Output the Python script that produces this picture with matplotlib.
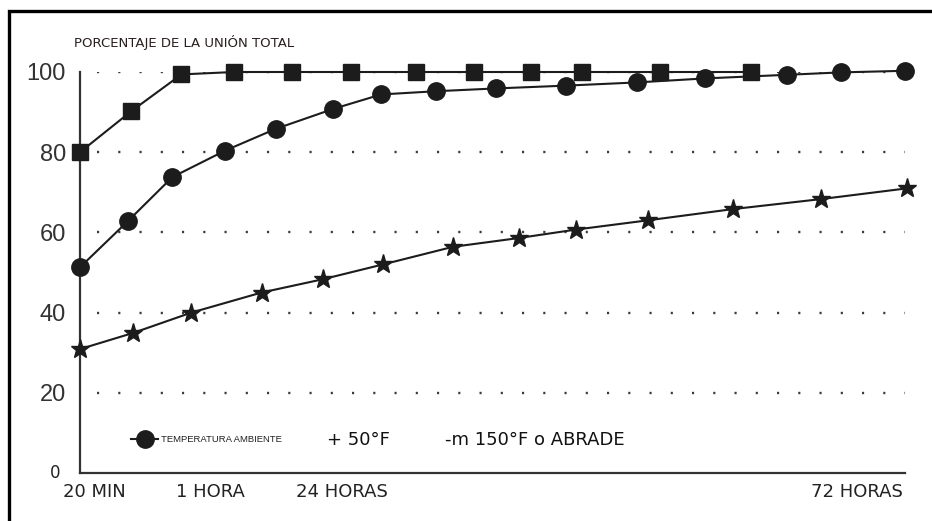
import matplotlib
matplotlib.use("Agg")
import matplotlib.pyplot as plt
from matplotlib.patches import Rectangle

# x positions are on an arbitrary 0-100 time scale (axis is not linear in time)
square_x = [0, 6.2, 12.3, 18.7, 25.7, 32.9, 40.7, 47.7, 54.7, 60.9, 70.3, 81.3]
square_y = [80, 90.2, 99.4, 100, 100, 100, 100, 100, 100, 100, 100, 100]

circle_x = [0, 5.8, 11.2, 17.6, 23.7, 30.7, 36.5, 43.1, 50.4, 58.9, 67.5, 75.8, 85.7, 92.2, 100]
circle_y = [51.3, 62.8, 73.8, 80.4, 85.8, 90.8, 94.4, 95.2, 95.9, 96.6, 97.4, 98.4, 99.3, 99.9, 100.3]

star_x = [0, 6.4, 13.5, 22.0, 29.4, 36.7, 45.2, 53.2, 60.1, 68.8, 79.1, 89.8, 100.3]
star_y = [30.9, 34.9, 40.0, 45.0, 48.3, 52.0, 56.4, 58.6, 60.7, 63.0, 65.8, 68.3, 71.0]

y_ticks = [20, 40, 60, 80, 100]
x_tick_pos = [1.7, 15.8, 31.8, 94.2]
x_tick_labels = ["20 MIN", "1 HORA", "24 HORAS", "72 HORAS"]

ink = "#1c1c1c"

fig = plt.figure(figsize=(9.32, 5.21), dpi=100)
ax = fig.add_axes([80 / 932, 1 - 473 / 521, 825 / 932, 401 / 521])
ax.set_xlim(0, 100)
ax.set_ylim(0, 100)

# dotted reference lines
ax.hlines(y_ticks, 2.1, 100, colors="#3a3a3a", linestyles=(0, (0.9, 8.1)), linewidth=1.7, zorder=1)

ax.plot(square_x, square_y, color=ink, lw=1.5, marker="s", ms=11, clip_on=False, zorder=3)
ax.plot(circle_x, circle_y, color=ink, lw=1.5, marker="o", ms=12.5, clip_on=False, zorder=3,
        label="TEMPERATURA AMBIENTE")
ax.plot(star_x, star_y, color=ink, lw=1.5, marker="*", ms=14, clip_on=False, zorder=3)

for s in ["top", "right"]:
    ax.spines[s].set_visible(False)
for s in ["left", "bottom"]:
    ax.spines[s].set_color("#333333")
    ax.spines[s].set_linewidth(1.6)
ax.spines["left"].set_bounds(0, 100)

ax.set_yticks(y_ticks)
ax.set_yticklabels([str(v) for v in y_ticks], family=["Liberation Sans Narrow", "Liberation Sans"],
                   fontsize=17, color="#333333")
ax.tick_params(axis="y", length=0, pad=10)
ax.set_xticks(x_tick_pos)
ax.set_xticklabels(x_tick_labels, fontsize=13, color="#222222")
ax.tick_params(axis="x", length=0, pad=7)

ax.text(-2.4, 0, "0", fontsize=12, color="#222222", ha="right", va="center")

fig.text(74 / 932, 1 - 42 / 521, "PORCENTAJE DE LA UNIÓN TOTAL", fontsize=9.5,
         color="#2a1f1f", ha="left", va="center")

leg = ax.legend(loc="center left", bbox_to_anchor=(131 / 932, 1 - 440 / 521),
                bbox_transform=fig.transFigure, frameon=False, borderpad=0, borderaxespad=0,
                handlelength=2.9, handletextpad=0.25, numpoints=1,
                prop={"family": "Liberation Sans", "size": 6.8})
for t in leg.get_texts():
    t.set_color("#222222")

fig.text(327 / 932, 1 - 440 / 521, "+ 50°F", fontsize=13, color="#111111", ha="left", va="center")
fig.text(445 / 932, 1 - 440 / 521, "-m 150°F o ABRADE", fontsize=13, color="#111111",
         ha="left", va="center")

# black frame around the figure (right and bottom run off the image)
fig.patches.append(Rectangle((9 / 932, -0.05), 1.2, 0.05 + 1 - 11 / 521, transform=fig.transFigure,
                             fill=False, edgecolor="black", linewidth=2.4))

fig.savefig("out.png", dpi=100)
